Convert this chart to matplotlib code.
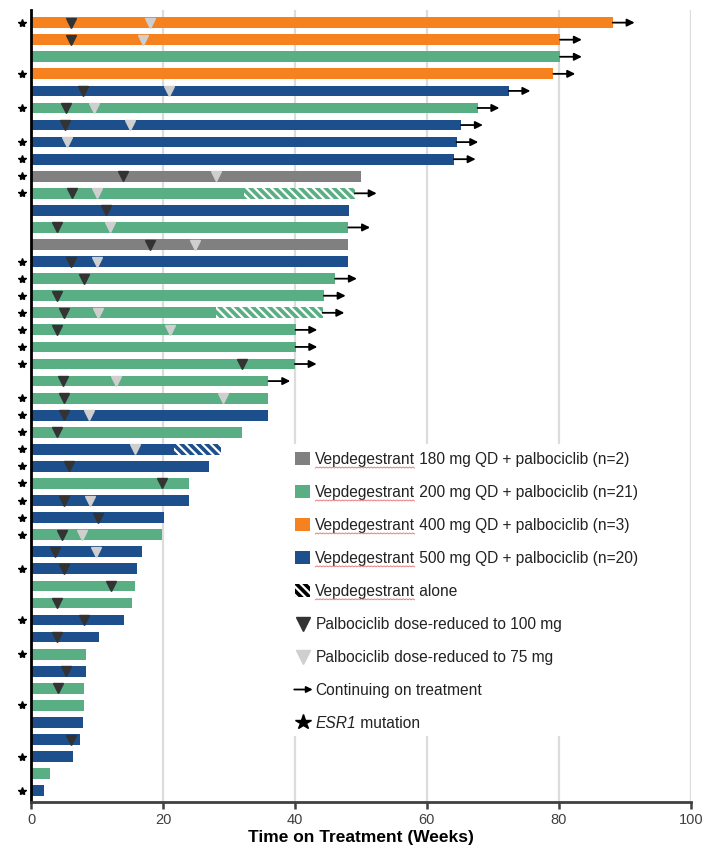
import matplotlib
matplotlib.use("Agg")
import matplotlib.pyplot as plt
from matplotlib.patches import Rectangle

plt.rcParams["font.family"] = ["Liberation Sans", "DejaVu Sans"]
plt.rcParams["hatch.linewidth"] = 1.6

# one entry per patient, top to bottom
cohort = [400, 400, 200, 400, 500, 200, 500, 500, 500, 180,
          200, 500, 200, 180, 500, 200, 200, 200, 200, 200,
          200, 200, 200, 500, 200, 500, 500, 200, 500, 500,
          200, 500, 500, 200, 200, 500, 500, 200, 500, 200,
          200, 500, 500, 500, 200, 500]
weeks = [88.2, 80.2, 80.2, 79.2, 72.4, 67.7, 65.2, 64.5, 64.1, 50.0,
         49.1, 48.2, 48.1, 48.0, 48.0, 46.1, 44.4, 44.2, 40.1, 40.1,
         40.0, 36.0, 36.0, 36.0, 32.0, 28.8, 27.0, 24.0, 24.0, 20.2,
         19.9, 16.8, 16.1, 15.7, 15.3, 14.1, 10.3, 8.3, 8.3, 8.1,
         8.0, 7.9, 7.4, 6.4, 2.9, 2.0]
# week where vepdegestrant continued alone, keyed by row
alone_from = {10: 32.3, 17: 28.0, 25: 21.7}
# palbociclib reductions (week), keyed by row
reduced_100 = {0: 6.0, 1: 6.0, 4: 7.9, 5: 5.3, 6: 5.2, 9: 14.0, 10: 6.2,
               11: 11.3, 12: 4.0, 13: 18.0, 14: 6.0, 15: 8.0, 16: 4.0,
               17: 5.0, 18: 4.0, 20: 32.0, 21: 4.9, 22: 5.0, 23: 5.0,
               24: 3.9, 26: 5.8, 27: 19.9, 28: 5.0, 29: 10.2, 30: 4.7,
               31: 3.6, 32: 5.0, 33: 12.1, 34: 3.9, 35: 8.0, 36: 4.0,
               38: 5.3, 39: 4.1, 42: 6.0}
reduced_75 = {0: 18.0, 1: 17.0, 4: 20.9, 5: 9.6, 6: 15.0, 7: 5.5, 9: 28.0,
              10: 10.0, 12: 12.0, 13: 24.9, 14: 10.0, 17: 10.1, 18: 21.1,
              21: 12.9, 22: 29.1, 23: 8.8, 25: 15.7, 28: 9.0, 30: 7.7,
              31: 9.9}
ongoing = [0, 1, 2, 3, 4, 5, 6, 7, 8, 10, 12, 15, 16, 17, 18, 19, 20, 21]
esr1 = [0, 3, 5, 7, 8, 9, 10, 14, 15, 16, 17, 18, 19, 20, 22, 23, 24, 25,
        26, 27, 28, 29, 30, 32, 35, 37, 40, 43, 45]

colors = {180: "#808080", 200: "#5aae84", 400: "#f5821f", 500: "#1c4f8b"}
counts = {c: cohort.count(c) for c in (180, 200, 400, 500)}
x_ticks = [0, 20, 40, 60, 80, 100]

fig = plt.figure(figsize=(7.02, 8.47), dpi=100)
ax = fig.add_axes([31 / 702, 1 - 802 / 847, 659.7 / 702, 792 / 847])

rows = list(range(len(weeks)))
bar_h = 0.63
HATCH = "\\\\\\\\"

for i in rows:
    c = colors[cohort[i]]
    solid_end = alone_from.get(i, weeks[i])
    ax.barh(i, solid_end, height=bar_h, color=c, edgecolor="none", zorder=2)
    if i in alone_from:
        ax.barh(i, weeks[i] - solid_end, left=solid_end, height=bar_h,
                color=c, edgecolor="white", linewidth=0, hatch=HATCH,
                zorder=2)

for i in ongoing:
    ax.annotate("", xy=(weeks[i] + 3.3, i), xytext=(weeks[i], i),
                arrowprops=dict(arrowstyle="-|>", color="black", lw=1.3,
                                mutation_scale=11, shrinkA=0, shrinkB=0),
                zorder=3)

ax.plot(list(reduced_100.values()), list(reduced_100.keys()), "v",
        color="#333333", markersize=7.2, zorder=4, linestyle="none")
ax.plot(list(reduced_75.values()), list(reduced_75.keys()), "v",
        color="#cfcfcf", markersize=7.2, zorder=4, linestyle="none")
ax.plot([-1.4] * len(esr1), esr1, "*", color="black", markersize=6,
        clip_on=False, zorder=4, linestyle="none")

ax.set_xlim(0, 100)
ax.set_ylim(len(weeks) - 1 + 0.66, -0.74)
ax.set_yticks([])
ax.set_xticks(x_ticks)
ax.tick_params(axis="x", length=5, width=1.8, color="#404040",
               labelsize=10.5, labelcolor="#404040", pad=3)
for x in x_ticks[1:]:
    ax.axvline(x, color="#dcdcdc", lw=1.6, zorder=0.5)
for s in ("top", "right"):
    ax.spines[s].set_visible(False)
ax.spines["left"].set_linewidth(2)
ax.spines["left"].set_color("black")
ax.spines["bottom"].set_linewidth(2)
ax.spines["bottom"].set_color("#404040")
ax.set_xlabel("Time on Treatment (Weeks)", fontsize=12.5,
              fontweight="bold", labelpad=2)

# key, drawn over the gridlines
ax.add_patch(Rectangle((39.3, 24.7), 59.7, 17.1, facecolor="white",
                       edgecolor="none", zorder=1))
ky0, kdy = 25.56, 1.93
hx, tx = 40.0, 43.1
fs = 11.2
tcol = "#222222"
drug_words = []


def key_text(y, first, rest, **kw):
    t = ax.text(tx, y, first, fontsize=fs, va="baseline", color=tcol,
                zorder=3, **kw)
    ax.annotate(rest, xy=(1, 0), xycoords=t, va="bottom", fontsize=fs,
                color=tcol, zorder=3)
    return t


for k, c in enumerate((180, 200, 400, 500)):
    y = ky0 + k * kdy
    ax.add_patch(Rectangle((hx, y - 0.38), 2.3, 0.76, facecolor=colors[c],
                           edgecolor="none", zorder=2))
    drug_words.append(key_text(y + 0.3, "Vepdegestrant",
                               f" {c} mg QD + palbociclib (n={counts[c]})"))
y = ky0 + 4 * kdy
ax.add_patch(Rectangle((hx, y - 0.38), 2.3, 0.76, facecolor="black",
                       edgecolor="white", linewidth=0, hatch=HATCH,
                       zorder=2))
drug_words.append(key_text(y + 0.3, "Vepdegestrant", " alone"))
y = ky0 + 5 * kdy
ax.plot(hx + 1.2, y, "v", color="#333333", markersize=10, zorder=3)
key_text(y + 0.3, "Palbociclib", " dose-reduced to 100 mg")
y = ky0 + 6 * kdy
ax.plot(hx + 1.2, y, "v", color="#cfcfcf", markersize=10, zorder=3)
key_text(y + 0.3, "Palbociclib", " dose-reduced to 75 mg")
y = ky0 + 7 * kdy
ax.annotate("", xy=(hx + 2.7, y), xytext=(hx - 0.1, y),
            arrowprops=dict(arrowstyle="-|>", color="black", lw=1.3,
                            mutation_scale=9, shrinkA=0, shrinkB=0),
            zorder=3)
key_text(y + 0.3, "Continuing", " on treatment")
y = ky0 + 8 * kdy
ax.plot(hx + 1.2, y, "*", color="black", markersize=11.5, zorder=3)
key_text(y + 0.3, "ESR1", " mutation", style="italic")

# red wavy underline under the drug name, as in the source slide
fig.canvas.draw()
inv = ax.transData.inverted()
for t in drug_words:
    bb = t.get_window_extent()
    xs, ys = [], []
    px = bb.x0
    step = 0
    while px <= bb.x1:
        xs.append(px)
        ys.append(bb.y0 - 1.0 + (1.0 if step % 2 else 0.0))
        px += 1.6
        step += 1
    pts = inv.transform(list(zip(xs, ys)))
    ax.plot(pts[:, 0], pts[:, 1], color="#e06060", lw=0.7, zorder=3,
            alpha=0.8)

fig.savefig("out.png", dpi=100)
